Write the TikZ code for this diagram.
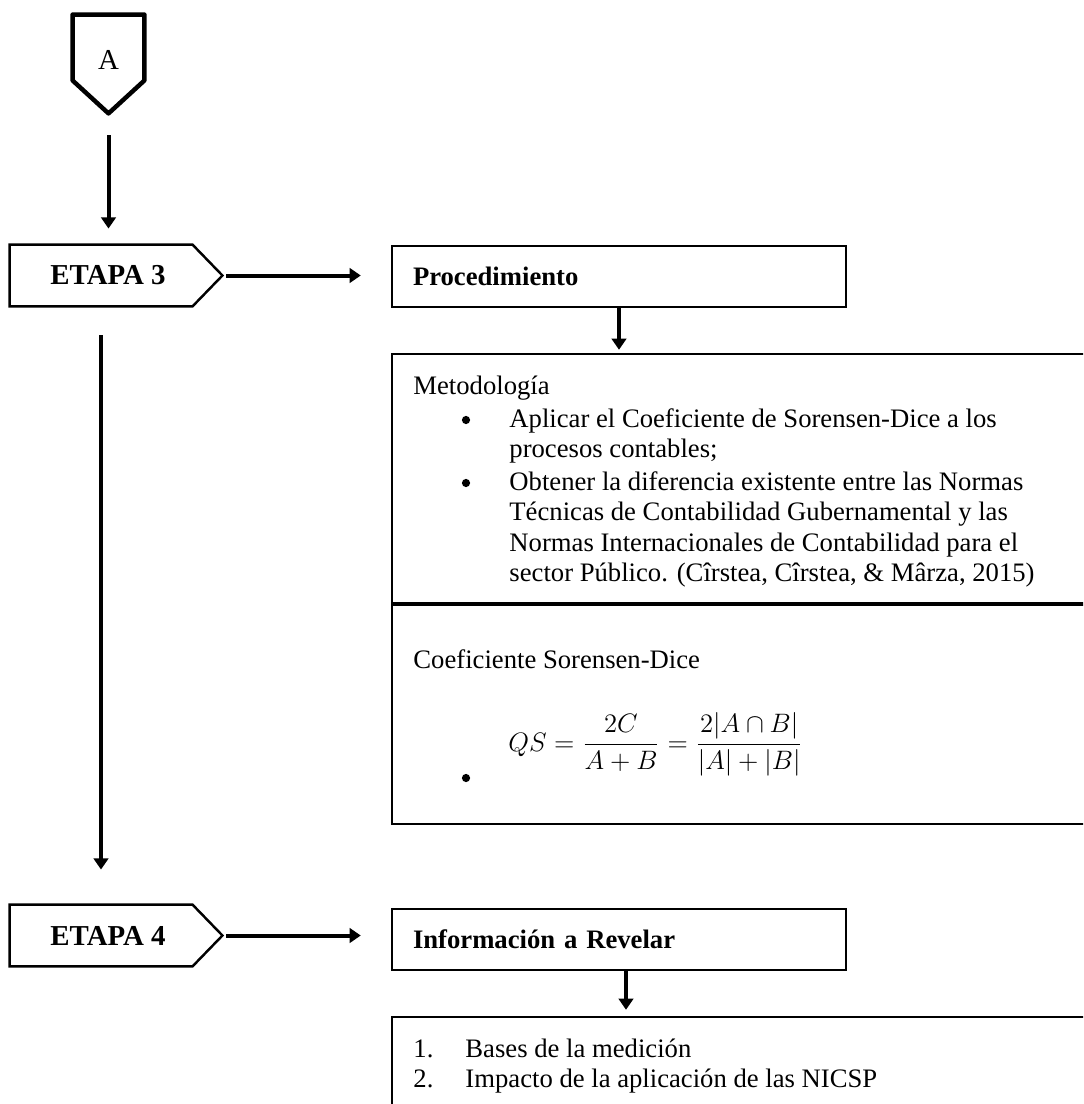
\documentclass[tikz,border=0pt]{standalone}
\usepackage{fontspec}
\setmainfont{Liberation Serif}
\usepackage{amsmath}
\usetikzlibrary{arrows.meta,positioning,calc}

\begin{document}
\begin{tikzpicture}[x=0.45pt, y=-0.45pt,
    every node/.style={font=\fontsize{12}{13.6}\selectfont, inner sep=0pt},
    arr/.style={-{Triangle[width=6.5pt,length=5pt]}, line width=1.8pt},
    stagebody/.style={minimum width=81.9pt, minimum height=27.45pt,
                      font=\fontsize{13}{15}\selectfont\bfseries},
    stageline/.style={line width=1.1pt, line join=miter},
    titlebox/.style={draw, line width=1.1pt, minimum width=204.3pt,
                     minimum height=27.45pt, text width=185.4pt,
                     inner xsep=9.45pt, align=left,
                     font=\fontsize{12}{13.6}\selectfont\bfseries},
    contentbox/.style={draw, line width=1.1pt, minimum width=327.6pt},
    bulletdot/.style={circle, fill, minimum size=3.7pt},
    line/.style={anchor=base west}]

  \path[use as bounding box, fill=white] (0,0) rectangle (1083,1104);
  \clip (0,0) rectangle (1083,1104);

  % off-page connector
  \node[minimum width=31.95pt, minimum height=29.25pt] (conA) at (108.5,47.5) {};
  \coordinate (conAtip) at ($(conA.south)+(0,33)$);
  \draw[line width=2pt, line join=round]
    (conA.north west) -- (conA.north east) -- (conA.south east)
    -- (conAtip) -- (conA.south west) -- cycle;
  \node[font=\fontsize{13}{15}\selectfont] (labA) at (108.5,59.5) {A};

  % stage 3
  \node[stagebody] (e3) at (101,275.5) {\hspace*{6.3pt}ETAPA 3};
  \coordinate (e3tip) at ($(e3.east)+(30,0)$);
  \draw[stageline] (e3.north west) -- (e3.north east) -- (e3tip)
    -- (e3.south east) -- (e3.south west) -- cycle;
  \draw[arr, shorten <=9.9pt, shorten >=7.2pt] (conAtip) -- (conAtip |- e3.north);

  \node[titlebox] (proc) at (619,276.5) {Procedimiento};
  \draw[arr, shorten <=1.8pt, shorten >=13.5pt] (e3tip) -- (e3tip -| proc.west);

  \node[contentbox, minimum height=112.05pt] (met) at (756,478.5) {};
  \node[contentbox, minimum height=98.55pt] (coef) at (756,714.5) {};
  \draw[arr, shorten >=1.35pt] (proc.south) -- (proc.south |- met.north);

  \node[line] (metTitle) at (413,394) {Metodología};
  \foreach \yy/\txt [count=\i] in {
      427/{Aplicar el Coeficiente de Sorensen-Dice a los},
      457/{procesos contables;},
      490/{Obtener la diferencia existente entre las Normas},
      520/{Técnicas de Contabilidad Gubernamental y las},
      551/{Normas Internacionales de Contabilidad para el},
      581/{sector Público. (Cîrstea, Cîrstea, \& Mârza, 2015)}}
    \node[line] (met\i) at (509,\yy) {\txt};
  \foreach \yy [count=\i] in {420,483}
    \node[bulletdot] (bul\i) at (466,\yy) {};

  \node[line] (coefTitle) at (413,668) {Coeficiente Sorensen-Dice};
  \node[anchor=base west, font=\fontsize{13}{15}\selectfont] (qs) at (508,751)
    {$\displaystyle QS=\frac{2C}{A+B}=\frac{2|A\cap B|}{|A|+|B|}$};
  \node[bulletdot] (bul3) at (466,778) {};

  % stage 4
  \node[stagebody] (e4) at (101,935.5) {\hspace*{6.3pt}ETAPA 4};
  \coordinate (e4tip) at ($(e4.east)+(30,0)$);
  \draw[stageline] (e4.north west) -- (e4.north east) -- (e4tip)
    -- (e4.south east) -- (e4.south west) -- cycle;
  \draw[arr, shorten <=13.05pt, shorten >=15.75pt] (e3.south) -- (e4.north);

  \node[titlebox] (info) at (619,939.5) {Información a Revelar};
  \draw[arr, shorten <=1.8pt, shorten >=13.5pt] (e4tip) -- (e4tip -| info.west);

  \node[contentbox, minimum height=55.35pt] (list) at (756,1078.5) {};
  \coordinate (infoOut) at ([xshift=3.15pt]info.south);
  \draw[arr, shorten >=2.7pt] (infoOut) -- (infoOut |- list.north);

  \foreach \yy/\nr/\txt [count=\i] in {
      1057/1./{Bases de la medición},
      1087/2./{Impacto de la aplicación de las NICSP}}{
    \node[line] (nr\i) at (413,\yy) {\nr};
    \node[line] (item\i) at (465,\yy) {\txt};}
\end{tikzpicture}
\end{document}
